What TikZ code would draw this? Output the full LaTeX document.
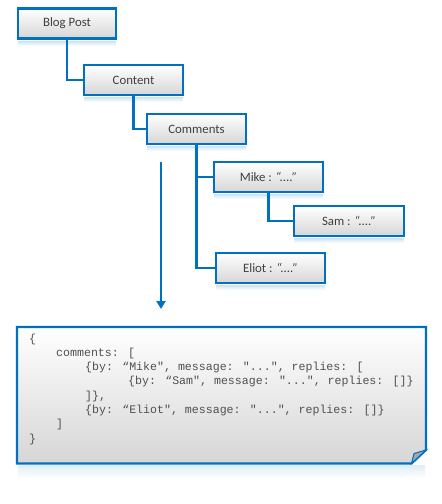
\documentclass[tikz,border=0pt]{standalone}
\usepackage{fontspec}
\setmainfont{Carlito}
\newfontfamily\codefont{Liberation Mono}
\usetikzlibrary{arrows.meta}
\definecolor{bblue}{HTML}{0070C0}
\definecolor{btext}{HTML}{404040}
\definecolor{ctext}{HTML}{505050}
\definecolor{bgray}{HTML}{D6D6D6}
\tikzset{
  x=1pt, y=-1pt,
  treebox/.style={draw=bblue, line width=2.2pt, rectangle, top color=white, bottom color=bgray,
    minimum height=30pt, inner sep=0pt, text=btext, font=\fontsize{12.8}{15}\selectfont},
  link/.style={draw=bblue, line width=2.2pt},
  refl/.style={top color=bblue!18, bottom color=white, draw=none},
  codeline/.style={anchor=base west, inner sep=0pt, text=ctext, font=\codefont\fontsize{11.6}{14.3}\selectfont},
}
\begin{document}
\begin{tikzpicture}
\useasboundingbox (0,0) rectangle (442,504);
% reflections
\foreach \xa/\xb/\yy in {17/117/40, 83/184/96, 146/247/145, 213/324/193, 293/405/237, 215/326/284}{
  \path[refl] (\xa+1,\yy+1.5) rectangle (\xb-1,\yy+6);
}
\path[top color=bblue!12, bottom color=white] (18,465.5) rectangle (425,478);
% tree boxes
\node[treebox, minimum width=97.8pt] (bp) at (67,23.5) {Blog Post};
\node[treebox, minimum width=98.8pt] (ct) at (133.5,80) {Content};
\node[treebox, minimum width=98.8pt] (cm) at (196.5,129) {Comments};
\node[treebox, minimum width=108.8pt] (mk) at (268.5,177) {Mike : \textit{“....”}};
\node[treebox, minimum width=109.8pt] (sm) at (349,221) {Sam : \textit{“....”}};
\node[treebox, minimum width=108.8pt] (el) at (270.5,268) {Eliot : \textit{“....”}};
% connectors
\draw[link] (bp.south) |- (ct.west);
\draw[link] (ct.south) |- (cm.west);
\draw[link] (cm.south) |- (mk.west);
\draw[link] (cm.south) |- (el.west);
\draw[link] (mk.south) |- (sm.west);
% arrow
\coordinate (a1) at (161,162);
\coordinate (a2) at (161,309);
\draw[link, -{Triangle[length=8pt, width=9pt]}] (a1) -- (a2);
% code box
\path[top color=white, bottom color=bgray] (17,327) -- (426,327) -- (426,450) -- (411.5,463.5) -- (17,463.5) -- cycle;
\draw[draw=bblue, line width=2.2pt, line join=miter] (17,327) -- (426,327) -- (426,450) -- (411.5,463.5) -- (17,463.5) -- cycle;
\draw[draw=bblue, line width=1pt, fill=gray!70] (426,450) -- (414,453.5) -- (411.5,463.5) -- cycle;
\node[codeline] (c1) at (29,342) {\{};
\node[codeline] (c2) at (56,356.3) {comments: [};
\node[codeline] (c3) at (85,370.6) {\{by: “Mike", message: "...", replies: [};
\node[codeline] (c4) at (128,384.9) {\{by: “Sam", message: "...", replies: []\}};
\node[codeline] (c5) at (85,399.2) {]\},};
\node[codeline] (c6) at (85,413.5) {\{by: “Eliot", message: "...", replies: []\}};
\node[codeline] (c7) at (56,427.8) {]};
\node[codeline] (c8) at (29,442.1) {\}};
\end{tikzpicture}
\end{document}
